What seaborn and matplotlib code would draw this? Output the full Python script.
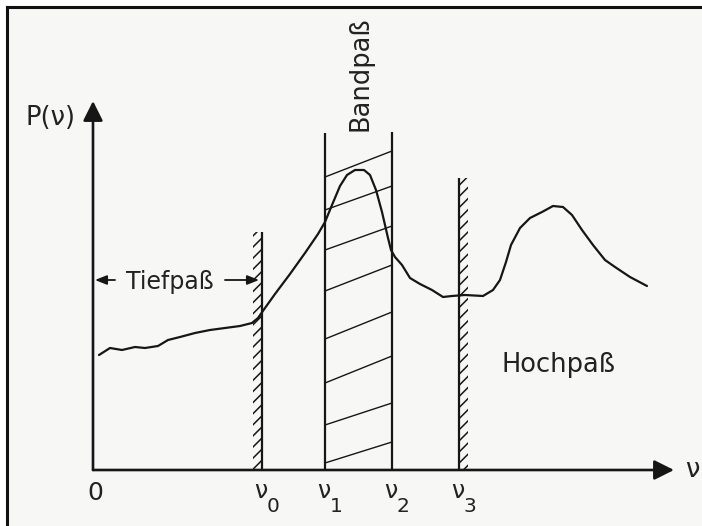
import matplotlib
matplotlib.use("Agg")
import matplotlib.pyplot as plt
from matplotlib.patches import Rectangle
import seaborn as sns
import pandas as pd

# Power spectrum P(nu), arbitrary units
nu = [6, 17, 29, 42, 52, 65, 75, 87, 102, 117, 132, 147, 159, 165, 172,
      182, 197, 212, 225, 232, 239, 247, 254, 262, 271, 277, 283, 289, 295,
      298, 302, 309, 317, 327, 339, 350, 359, 372, 390, 400, 407, 413, 418,
      427, 437, 449, 460, 470, 479, 489, 500, 512, 522, 537, 554]
power = [115, 122, 120, 123, 122, 124, 130, 133, 137, 140, 142, 144, 147, 152, 162,
         176, 196, 217, 236, 248, 265, 284, 295, 300, 300, 295, 280, 258, 232,
         220, 213, 205, 192, 186, 180, 173, 174, 175, 174, 180, 190, 208, 225,
         242, 252, 258, 264, 263, 255, 240, 225, 210, 203, 193, 184]

# Filter edge frequencies nu0..nu3 and the heights of their marker lines
edge_names = ["0", "1", "2", "3"]
edge_nu = [169, 232, 299, 366]
edge_top = [238, 337, 338, 292]

# Band-pass hatching strokes (height at nu1 and at nu2)
band_left = [293, 260, 220, 179, 131, 87, 45, 7]
band_right = [319, 284, 244, 205, 158, 114, 67, 28]

# Axis extents
nu_axis_end = 581
p_axis_end = 369

sns.set_style("white")
plt.rcParams["font.family"] = ["DejaVu Sans"]
plt.rcParams["hatch.linewidth"] = 1.1

ink = "#161616"
W, H, DPI = 702, 526, 100
fig = plt.figure(figsize=(W / DPI, H / DPI), dpi=DPI, facecolor="white")
left_px, top_px = 6.5, 6.5
ax = fig.add_axes([left_px / W, 0, 1 - left_px / W, 1 - top_px / H])
ax.set_facecolor("#f7f7f6")
ax.set_xlim(-93 + left_px, 609)
ax.set_ylim(-56, 470 - top_px)
ax.set_xticks([])
ax.set_yticks([])
for side in ("right", "bottom"):
    ax.spines[side].set_visible(False)
for side in ("left", "top"):
    ax.spines[side].set_linewidth(2.2)
    ax.spines[side].set_color("#111111")

# Axes with filled arrow heads
arrow = dict(arrowstyle="-|>,head_length=0.6,head_width=0.3", mutation_scale=20,
             lw=1.9, color=ink, shrinkA=0, shrinkB=0)
ax.annotate("", xy=(nu_axis_end, 0), xytext=(0, 0), arrowprops=arrow)
ax.annotate("", xy=(0, p_axis_end), xytext=(0, 0), arrowprops=arrow)

# Spectrum curve
df = pd.DataFrame({"nu": nu, "P": power})
sns.lineplot(data=df, x="nu", y="P", ax=ax, color=ink, lw=1.6,
             estimator=None, sort=False)

# Low-pass and high-pass walls (hatched on the blocked side)
ax.vlines(edge_nu, 0, edge_top, colors=ink, lw=1.6)
ax.add_patch(Rectangle((edge_nu[0] - 9, 0), 9, edge_top[0], facecolor="none",
                       edgecolor=ink, lw=0, hatch="///"))
ax.add_patch(Rectangle((edge_nu[3], 0), 9, edge_top[3], facecolor="none",
                       edgecolor=ink, lw=0, hatch="///"))

# Band-pass hatching
for yl, yr in zip(band_left, band_right):
    ax.plot([edge_nu[1], edge_nu[2]], [yl, yr], color=ink, lw=1.0)

# Labels
txt = dict(color="#222222")
ax.text(-43, 352, "P(ν)", fontsize=18.5, ha="center", va="center", **txt)
ax.text(599, 0, "ν", fontsize=18.5, ha="center", va="center", **txt)
ax.text(2, -23, "0", fontsize=18, ha="center", va="center", **txt)
for name, x in zip(edge_names, edge_nu):
    ax.annotate("ν", xy=(x, 0), xytext=(-1, -15), textcoords="offset points",
                fontsize=17, ha="center", va="center", **txt)
    ax.annotate(name, xy=(x, 0), xytext=(8, -26), textcoords="offset points",
                fontsize=14.5, ha="center", va="center", **txt)

ax.text(267, 396, "Bandpaß", rotation=90, fontsize=18.5, ha="center",
        va="center", **txt)
ax.text(465, 98, "Hochpaß", fontsize=18.5, ha="center", va="baseline", **txt)

# Low-pass range marker
tief_y = 190
small = dict(arrowstyle="-|>,head_length=0.5,head_width=0.2", mutation_scale=14,
             lw=1.3, color=ink, shrinkA=0, shrinkB=0)
ax.annotate("", xy=(2, tief_y), xytext=(22, tief_y), arrowprops=small)
ax.annotate("", xy=(edge_nu[0] - 3, tief_y), xytext=(132, tief_y), arrowprops=small)
ax.text(77, tief_y - 9, "Tiefpaß", fontsize=17, ha="center", va="baseline", **txt)

fig.savefig("out.png", dpi=DPI, facecolor="white")
